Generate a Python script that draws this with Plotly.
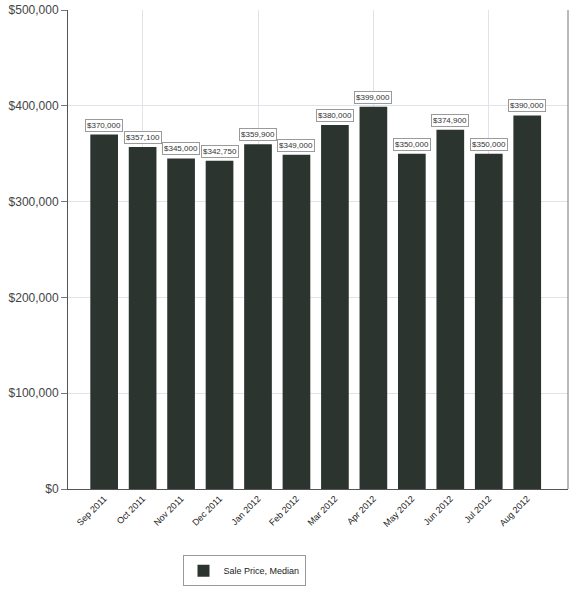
import plotly.graph_objects as go

months = ['Sep 2011', 'Oct 2011', 'Nov 2011', 'Dec 2011', 'Jan 2012', 'Feb 2012',
          'Mar 2012', 'Apr 2012', 'May 2012', 'Jun 2012', 'Jul 2012', 'Aug 2012']
median_price = [370000, 357100, 345000, 342750, 359900, 349000,
                380000, 399000, 350000, 374900, 350000, 390000]
y_ticks = [0, 100000, 200000, 300000, 400000, 500000]

bar_color = '#2c3430'
font = 'Liberation Sans, Arial, sans-serif'
idx = list(range(len(months)))

fig = go.Figure()
fig.add_trace(go.Bar(x=idx, y=median_price, name='Sale Price, Median',
                     marker_color=bar_color, marker_line_width=0, width=0.72))
# dummy trace just to get the vertical grid on its own axis
fig.add_trace(go.Scatter(x=[None], y=[None], xaxis='x2', showlegend=False, hoverinfo='skip'))

for i, v in zip(idx, median_price):
    fig.add_annotation(x=i, y=v, text='$' + format(v, ','), showarrow=False,
                       yanchor='bottom', yshift=3, font=dict(family=font, size=8, color='#333'),
                       bgcolor='white', bordercolor='#9a9a9a', borderwidth=1, borderpad=1)

x_range = [-0.94, 12.06]
fig.update_layout(
    width=582, height=589,
    margin=dict(l=68, r=14, t=10, b=100, autoexpand=False),
    paper_bgcolor='white', plot_bgcolor='white',
    font=dict(family=font, color='#444'),
    bargap=0.28,
    showlegend=True,
    legend=dict(orientation='h', x=0.352, xanchor='center', y=-0.203, yanchor='bottom',
                bordercolor='#999', borderwidth=1, bgcolor='white',
                itemwidth=30, font=dict(size=9, color='#222')),
    xaxis=dict(range=x_range, tickvals=idx, ticktext=months, tickangle=-45,
               showgrid=False, showline=True, linecolor='#555', linewidth=1,
               automargin=False, ticks='', tickfont=dict(size=9, color='#222'),
               zeroline=False),
    xaxis2=dict(range=x_range, overlaying='x', tickvals=[1, 4, 7, 10], showticklabels=False,
                showgrid=True, gridcolor='#e2e2ea', gridwidth=1, zeroline=False,
                automargin=False),
    yaxis=dict(range=[0, 500000], tickvals=y_ticks,
               ticktext=['$' + format(t, ',') for t in y_ticks],
               showgrid=True, gridcolor='#e2e2ea', showline=True, linecolor='#555',
               ticks='outside', ticklen=6, tickcolor='#777', automargin=False,
               tickfont=dict(size=12, color='#444'), zeroline=False),
)
fig.add_shape(type='line', xref='paper', yref='paper', x0=1, x1=1, y0=0, y1=1,
              line=dict(color='#777', width=1))

# page has the default 8px body margin; drop it so the figure fills the window
fig.write_html("out.html", config={'displayModeBar': False},
               post_script="document.body.style.margin='0';")
